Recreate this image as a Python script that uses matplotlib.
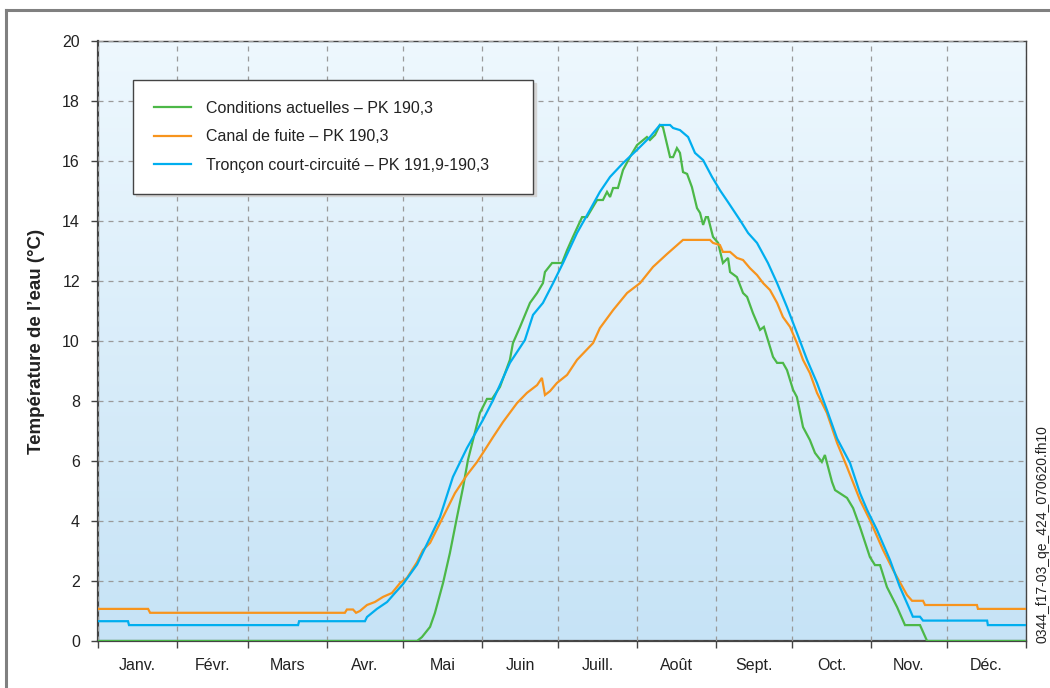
import numpy as np
import matplotlib
matplotlib.use("Agg")
import matplotlib.pyplot as plt
from matplotlib.lines import Line2D

plt.rcParams["font.family"] = ["Liberation Sans", "DejaVu Sans"]

months = ["Janv.", "Févr.", "Mars", "Avr.", "Mai", "Juin",
          "Juill.", "Août", "Sept.", "Oct.", "Nov.", "Déc."]
month_days = [31, 28, 31, 30, 31, 30, 31, 31, 30, 31, 30, 31]

# day of year / water temperature (°C)
actuel_day = [0, 125.5, 127.4, 130.6, 132.5, 135.7, 138.4, 141.2, 143.6, 145.5,
              147.5, 150.2, 153.0, 155.0, 158.1, 162.0, 163.2, 166.0, 169.9,
              172.7, 175.0, 175.8, 178.6, 182.5, 184.5, 186.8, 190.4, 192.3,
              196.3, 198.6, 200.2, 201.4, 202.6, 204.5, 206.5, 209.2, 212.0,
              215.9, 217.1, 219.1, 221.0, 222.2, 225.0, 226.2, 227.7, 228.9,
              230.1, 231.7, 233.6, 235.6, 236.8, 238.0, 239.1, 239.9, 241.9,
              243.9, 245.8, 247.8, 248.6, 251.3, 253.7, 255.3, 257.6, 260.4,
              261.9, 263.5, 265.5, 267.1, 269.4, 271.0, 273.4, 274.9, 277.3,
              280.0, 282.0, 284.7, 285.9, 288.7, 289.9, 294.6, 297.0, 299.7,
              303.6, 305.6, 307.6, 310.3, 314.3, 317.4, 323.3, 326.1, 365]
actuel_temp = [0, 0, 0.13, 0.47, 0.93, 1.93, 2.93, 4.13, 5.13, 6.03,
               6.7, 7.6, 8.07, 8.07, 8.47, 9.37, 9.93, 10.47, 11.27,
               11.6, 11.93, 12.3, 12.6, 12.6, 13.03, 13.47, 14.13, 14.13,
               14.7, 14.7, 14.97, 14.8, 15.1, 15.1, 15.7, 16.13, 16.53,
               16.8, 16.7, 16.87, 17.2, 17.13, 16.13, 16.13, 16.43, 16.27,
               15.63, 15.57, 15.13, 14.43, 14.27, 13.87, 14.13, 14.13, 13.47,
               13.27, 12.6, 12.77, 12.3, 12.13, 11.6, 11.47, 10.93, 10.37,
               10.47, 10.03, 9.47, 9.27, 9.27, 9.03, 8.37, 8.13, 7.13,
               6.7, 6.27, 5.97, 6.2, 5.3, 5.03, 4.77, 4.43, 3.8,
               2.8, 2.53, 2.53, 1.8, 1.13, 0.53, 0.53, 0, 0]

canal_day = [0, 19.7, 20.5, 97.1, 97.9, 100.3, 101.5, 103.0, 105.8, 108.9,
             112.1, 115.6, 118.8, 121.5, 125.5, 127.8, 130.6, 135.7, 140.4,
             145.1, 149.1, 151.4, 155.4, 159.3, 164.8, 168.7, 172.7, 174.6,
             175.8, 177.8, 180.5, 184.5, 188.4, 194.7, 197.4, 202.6, 208.1,
             213.2, 218.3, 223.8, 230.1, 240.7, 241.9, 244.6, 245.8, 248.6,
             251.3, 253.7, 256.4, 259.2, 261.6, 264.3, 267.1, 269.4, 272.2,
             274.9, 277.3, 280.0, 282.8, 286.7, 290.7, 294.6, 299.7, 303.6,
             308.8, 312.7, 318.2, 320.2, 324.5, 325.3, 345.7, 346.1, 365]
canal_temp = [1.07, 1.07, 0.94, 0.94, 1.05, 1.05, 0.94, 1.0, 1.2, 1.3,
              1.47, 1.6, 1.93, 2.1, 2.63, 3.03, 3.27, 4.13, 4.93,
              5.53, 5.97, 6.27, 6.8, 7.3, 7.93, 8.27, 8.53, 8.77,
              8.2, 8.33, 8.6, 8.87, 9.37, 9.93, 10.43, 11.03, 11.6,
              11.93, 12.47, 12.9, 13.37, 13.37, 13.27, 13.2, 12.97, 12.97,
              12.77, 12.7, 12.43, 12.2, 11.93, 11.7, 11.27, 10.8, 10.47,
              9.93, 9.37, 8.93, 8.27, 7.6, 6.6, 5.8, 4.7, 4.03,
              3.03, 2.37, 1.53, 1.34, 1.34, 1.2, 1.2, 1.07, 1.07]

troncon_day = [0, 11.8, 12.2, 78.7, 79.1, 105.0, 105.8, 109.7, 113.7, 116.8,
               120.0, 125.5, 134.5, 139.6, 145.1, 151.4, 155.4, 162.0, 167.9,
               171.1, 175.0, 179.0, 182.9, 188.4, 193.5, 197.4, 201.4, 206.5,
               212.0, 217.1, 221.0, 225.0, 226.2, 228.9, 232.1, 234.8, 238.0,
               241.5, 244.6, 247.8, 252.5, 255.7, 259.2, 263.5, 267.1, 271.0,
               274.9, 278.9, 282.8, 286.7, 290.7, 295.8, 299.7, 302.5, 306.4,
               311.5, 315.4, 319.4, 320.5, 323.3, 324.5, 349.7, 350.0, 365]
troncon_temp = [0.66, 0.66, 0.53, 0.53, 0.66, 0.66, 0.8, 1.07, 1.3, 1.6,
                1.9, 2.55, 4.13, 5.47, 6.43, 7.37, 8.03, 9.27, 10.03,
                10.87, 11.27, 11.93, 12.6, 13.6, 14.37, 14.97, 15.47, 15.93,
                16.37, 16.8, 17.2, 17.2, 17.1, 17.03, 16.8, 16.27, 16.03,
                15.47, 15.03, 14.63, 14.03, 13.6, 13.27, 12.6, 11.93, 11.13,
                10.27, 9.37, 8.6, 7.7, 6.75, 5.93, 4.93, 4.37, 3.7,
                2.7, 1.8, 1.03, 0.81, 0.81, 0.68, 0.68, 0.53, 0.53]

series = [
    ("Conditions actuelles – PK 190,3", actuel_day, actuel_temp, "#4cb848"),
    ("Canal de fuite – PK 190,3", canal_day, canal_temp, "#f7941d"),
    ("Tronçon court-circuité – PK 191,9-190,3", troncon_day, troncon_temp, "#00aeef"),
]

month_starts = np.concatenate([[0], np.cumsum(month_days)])
month_mids = month_starts[:-1] + np.array(month_days) / 2

fig = plt.figure(figsize=(10.5, 6.88), dpi=100)
ax = fig.add_axes([98 / 1050, 47 / 688, 928 / 1050, 600 / 688])

# outer frame (top and left edges)
fig.add_artist(Line2D([6 / 1050, 6 / 1050], [0, 1 - 10 / 688],
                      color="#808080", lw=2.2, transform=fig.transFigure))
fig.add_artist(Line2D([6 / 1050, 1], [1 - 10 / 688, 1 - 10 / 688],
                      color="#808080", lw=2.2, transform=fig.transFigure))

# background gradient
grad = np.linspace(0, 1, 256).reshape(-1, 1)
cmap = matplotlib.colors.LinearSegmentedColormap.from_list(
    "bg", ["#c6e3f6", "#eef8fe"])
ax.imshow(grad, cmap=cmap, origin="lower", aspect="auto",
          extent=[0, 365, 0, 20], zorder=0)

for label, d, t, c in series:
    ax.plot(d, t, color=c, lw=1.6, label=label, zorder=3,
            solid_joinstyle="miter")

ax.set_xlim(0, 365)
ax.set_ylim(0, 20)
ax.set_xticks(month_starts)
ax.set_xticklabels([])
ax.set_xticks(month_mids, minor=True)
ax.set_xticklabels(months, minor=True, fontsize=11.5, color="#222222")
ax.tick_params(axis="x", which="minor", length=0, pad=12)
ax.tick_params(axis="x", which="major", length=5, width=1, color="#444444")
ax.set_yticks(np.arange(0, 21, 2))
ax.tick_params(axis="y", length=5, width=1, color="#444444",
               labelsize=11.5, labelcolor="#222222", pad=8)

ax.grid(True, which="major", color="#9a9a9a", lw=0.9, linestyle=(0, (4, 4)))
ax.set_axisbelow(False)
for g in ax.get_xgridlines() + ax.get_ygridlines():
    g.set_zorder(1)

for s in ["left", "bottom"]:
    ax.spines[s].set_color("#444444")
    ax.spines[s].set_linewidth(1.6)
for s in ["top", "right"]:
    ax.spines[s].set_color("#444444")
    ax.spines[s].set_linewidth(1.0)

ax.set_ylabel("Température de l’eau (°C)", fontsize=13.5, fontweight="bold",
              color="#222222", labelpad=12)

leg = ax.legend(loc="upper left",
                bbox_to_anchor=(35 / 928, 0, 400 / 928, 1 - 39 / 600),
                mode="expand", fontsize=11.5, frameon=True, fancybox=False,
                shadow={"color": "#d4d4d4", "alpha": 1.0},
                handlelength=2.3, handletextpad=1.0, labelspacing=0.85,
                borderpad=1.3, borderaxespad=0)
leg.get_frame().set_edgecolor("#444444")
leg.get_frame().set_linewidth(1.0)
leg.get_frame().set_alpha(1.0)
for t in leg.get_texts():
    t.set_color("#222222")
leg.set_zorder(5)

fig.text(1043 / 1050, 45 / 688, "0344_f17-03_qe_424_070620.fh10",
         rotation=90, fontsize=10, color="#222222", ha="center", va="bottom")

fig.savefig("out.png", dpi=100, facecolor="white")
